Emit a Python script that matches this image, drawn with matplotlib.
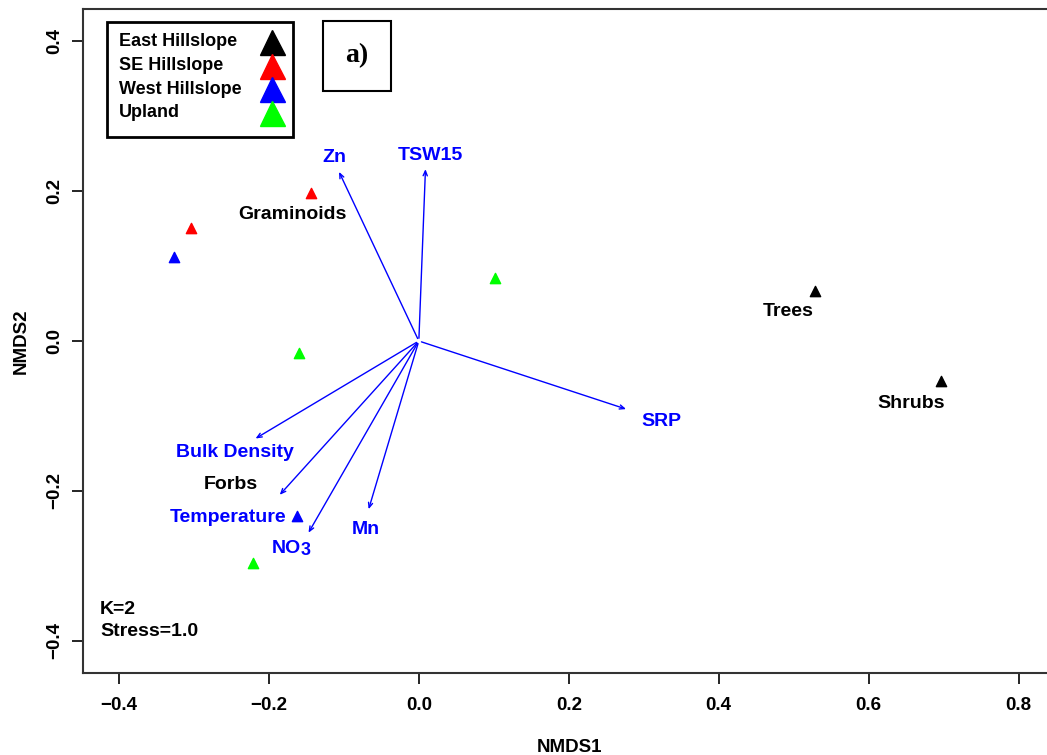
import matplotlib
matplotlib.use("Agg")
import matplotlib.pyplot as plt
from matplotlib.lines import Line2D
from matplotlib.patches import Rectangle

plt.rcParams['font.family'] = ['Liberation Sans', 'DejaVu Sans']
plt.rcParams['font.weight'] = 'bold'

# site scores (NMDS1, NMDS2) per group
groups = ['East Hillslope', 'SE Hillslope', 'West Hillslope', 'Upland']
group_colors = ['black', 'red', 'blue', '#00ff00']
east_x = [0.528, 0.697]
east_y = [0.067, -0.054]
se_x = [-0.144, -0.304]
se_y = [0.197, 0.151]
west_x = [-0.327, -0.163]
west_y = [0.112, -0.233]
upland_x = [0.101, -0.160, -0.221]
upland_y = [0.084, -0.016, -0.296]

# vegetation labels
veg_names = ['Graminoids', 'Trees', 'Shrubs', 'Forbs']
veg_x = [-0.169, 0.493, 0.657, -0.251]
veg_y = [0.169, 0.040, -0.084, -0.191]

# environmental vectors
env_names = ['Zn', 'TSW15', 'SRP', 'Bulk Density', 'Temperature', 'NO3', 'Mn']
env_x = [-0.108, 0.009, 0.280, -0.221, -0.188, -0.149, -0.068]
env_y = [0.229, 0.233, -0.092, -0.132, -0.208, -0.259, -0.228]
env_lab_x = [-0.113, 0.016, 0.323, -0.245, -0.255, -0.165, -0.071]
env_lab_y = [0.245, 0.248, -0.108, -0.149, -0.236, -0.277, -0.252]

W, H = 1047, 755


def fx(x):
    return x / W


def fy(y):
    return 1 - y / H


fig = plt.figure(figsize=(W / 100, H / 100), dpi=100)
ax = fig.add_axes([fx(83), fy(673), (1056 - 83) / W, (673 - 9) / H])
ax.set_xlim(-0.448, 0.85)
ax.set_ylim(-0.443, 0.443)

for xs, ys, c in zip([east_x, se_x, west_x, upland_x], [east_y, se_y, west_y, upland_y], group_colors):
    ax.scatter(xs, ys, marker='^', s=55, color=c, zorder=3)

for name, x, y in zip(veg_names, veg_x, veg_y):
    ax.text(x, y, name, ha='center', va='center', fontsize=14, fontweight='bold', color='black')

for name, x, y, lx, ly in zip(env_names, env_x, env_y, env_lab_x, env_lab_y):
    ax.annotate('', xy=(x, y), xytext=(0, 0),
                arrowprops=dict(arrowstyle='->,head_length=0.35,head_width=0.15', color='blue', lw=1))
    if name == 'NO3':
        # "3" drawn a bit lower, like the original
        ax.text(lx + 0.008, ly, 'NO', ha='right', va='center', fontsize=14, fontweight='bold', color='blue')
        ax.annotate('3', xy=(lx + 0.008, ly), xytext=(-0.5, -1.5), textcoords='offset points',
                    ha='left', va='center', fontsize=13, fontweight='bold', color='blue')
    else:
        ax.text(lx, ly, name, ha='center', va='center', fontsize=14, fontweight='bold', color='blue')

ax.text(-0.425, -0.358, 'K=2', ha='left', va='center', fontsize=14, fontweight='bold')
ax.text(-0.425, -0.388, 'Stress=1.0', ha='left', va='center', fontsize=14, fontweight='bold')

# legend box drawn by hand (text left aligned, symbols on the right)
fig.add_artist(Rectangle((fx(107), fy(137)), (293 - 107) / W, (137 - 22) / H, transform=fig.transFigure,
                         fc='white', ec='black', lw=2, zorder=5))
for i, (g, c) in enumerate(zip(groups, group_colors)):
    yy = fy(42 + i * 23.5)
    fig.text(fx(119), yy, g, ha='left', va='center', fontsize=13, fontweight='bold', zorder=6)
    fig.add_artist(Line2D([fx(272)], [yy], marker='^', markersize=18, color=c, linestyle='none',
                          transform=fig.transFigure, zorder=6))

ax.text(357, H - 56, 'a)', transform=None, ha='center', va='center', fontsize=20,
        fontweight='bold', family='Liberation Serif',
        bbox=dict(boxstyle='square,pad=0.8', fc='white', ec='black', lw=1.5))

ax.set_xticks([-0.4, -0.2, 0.0, 0.2, 0.4, 0.6, 0.8])
ax.set_yticks([-0.4, -0.2, 0.0, 0.2, 0.4])
ax.set_xticklabels(['\u22120.4', '\u22120.2', '0.0', '0.2', '0.4', '0.6', '0.8'])
ax.set_yticklabels(['\u22120.4', '\u22120.2', '0.0', '0.2', '0.4'], rotation=90, va='center')
ax.tick_params(length=8, width=1.2, labelsize=13.5)
ax.tick_params(axis='x', pad=9)
ax.tick_params(axis='y', pad=6)
for s in ax.spines.values():
    s.set_linewidth(1.5)
    s.set_color('#333333')

ax.set_xlabel('NMDS1', fontsize=13.5, fontweight='bold', labelpad=18)
ax.set_ylabel('NMDS2', fontsize=13.5, fontweight='bold', labelpad=12)

fig.savefig('out.png', dpi=100)
